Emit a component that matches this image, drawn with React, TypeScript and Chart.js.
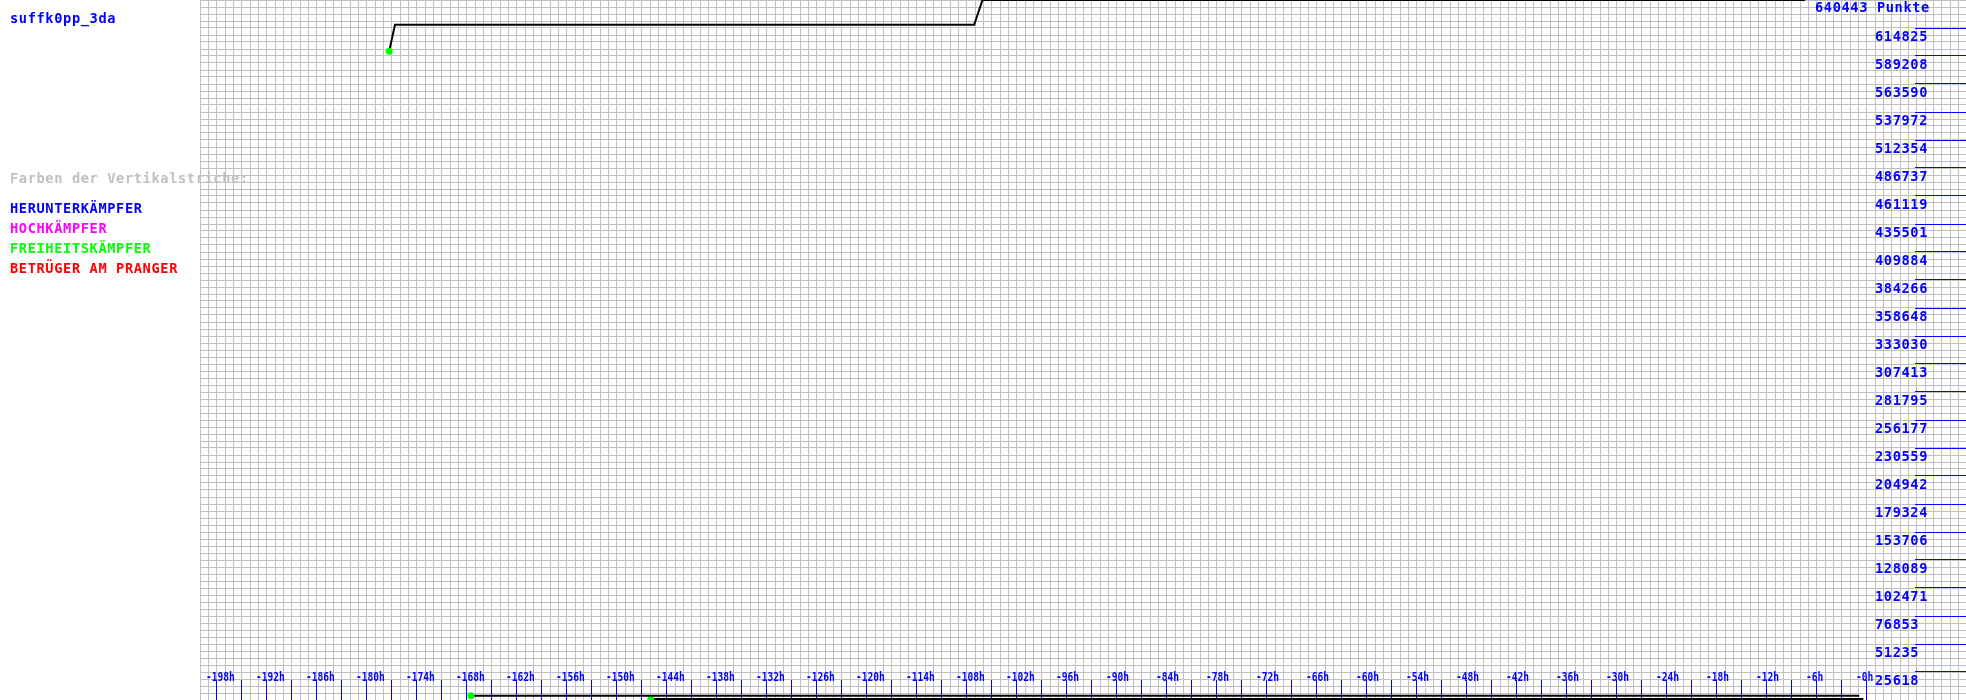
import React, { useEffect, useRef } from "react";
import { Chart, registerables } from "chart.js";

Chart.register(...registerables);

// ---- data ----
const playerName = "suffk0pp_3da";
const currentPoints = 640443;
const pointsUnit = "Punkte";

const mainHours = [-177.3, -176.6, -107.1, -106.1, -7.4];
const mainValues = [593507, 617846, 617846, 640443, 640443];

const lowAHours = [-167.5, -0.9];
const lowAValues = [3900, 3900];

const lowBHours = [-145.9, -0.4];
const lowBValues = [900, 900];

const yTickValues = [
  25618, 51235, 76853, 102471, 128089, 153706, 179324, 204942, 230559, 256177,
  281795, 307413, 333030, 358648, 384266, 409884, 435501, 461119, 486737, 512354,
  537972, 563590, 589208, 614825,
];

const xLabelHours = [
  -198, -192, -186, -180, -174, -168, -162, -156, -150, -144, -138, -132, -126,
  -120, -114, -108, -102, -96, -90, -84, -78, -72, -66, -60, -54, -48, -42, -36,
  -30, -24, -18, -12, -6, 0,
];
const xLabelTexts = xLabelHours.map((h) => (h === 0 ? "-0h" : `${h}h`));

const legendTitle = "Farben der Vertikalstriche:";
const legendItems = ["HERUNTERKÄMPFER", "HOCHKÄMPFER", "FREIHEITSKÄMPFER", "BETRÜGER AM PRANGER"];
const legendColors = ["#0000ff", "#ff00ff", "#00ff00", "#ff0000"];

// ---- layout / style ----
const W = 1966;
const H = 700;
const X_MIN = -200;
const X_MAX = -200 + (1766 * 6) / 50;
const GRID = "#c0c0c0";
const BLUE = "#0000ff";
const FONT = "bold 13.7px 'DejaVu Sans Mono', 'Liberation Mono', monospace";
const SMALL_FONT = "bold 12px 'DejaVu Sans Mono', 'Liberation Mono', monospace";

function toXY(xs: number[], ys: number[]) {
  return xs.map((x, i) => ({ x, y: ys[i] }));
}

function align(p: number) {
  return Math.round(p - 0.5) + 0.5;
}

function text(ctx: CanvasRenderingContext2D, s: string, x: number, baseline: number, color: string) {
  ctx.fillStyle = color;
  ctx.fillText(s, x, baseline);
}

const overlayPlugin = {
  id: "overlay",
  beforeDatasetsDraw(chart: any) {
    const ctx: CanvasRenderingContext2D = chart.ctx;
    const xs = chart.scales.x;
    const ys = chart.scales.y;
    const area = chart.chartArea;
    ctx.save();
    ctx.strokeStyle = BLUE;
    ctx.lineWidth = 1;
    ctx.beginPath();
    const tickHours: number[] = [];
    xLabelHours.forEach((h, i) => {
      tickHours.push(h);
      if (i < xLabelHours.length - 1) tickHours.push((h + xLabelHours[i + 1]) / 2);
    });
    tickHours.forEach((h) => {
      const px = align(xs.getPixelForValue(h));
      ctx.moveTo(px, area.bottom - 20);
      ctx.lineTo(px, area.bottom);
    });
    yTickValues.forEach((v) => {
      const py = align(ys.getPixelForValue(v));
      ctx.moveTo(area.right - 51, py);
      ctx.lineTo(area.right, py);
    });
    ctx.stroke();
    ctx.restore();
  },
  afterDraw(chart: any) {
    const ctx: CanvasRenderingContext2D = chart.ctx;
    const xs = chart.scales.x;
    const ys = chart.scales.y;
    const area = chart.chartArea;
    ctx.save();
    ctx.font = FONT;
    try {
      (ctx as any).letterSpacing = "0.6px";
    } catch (e) {}
    ctx.textAlign = "left";
    ctx.textBaseline = "alphabetic";

    text(ctx, playerName, 10, 23, BLUE);
    text(ctx, `${currentPoints} ${pointsUnit}`, area.right - 151, 12, BLUE);

    text(ctx, legendTitle, 10, 183, GRID);
    legendItems.forEach((s, i) => {
      text(ctx, s, 10, 213 + i * 20, legendColors[i]);
    });

    yTickValues.forEach((v) => {
      const py = Math.round(ys.getPixelForValue(v));
      text(ctx, String(v), area.right - 91, py + 12.5, BLUE);
    });
    ctx.restore();

    // hour labels: narrow font
    ctx.save();
    ctx.font = SMALL_FONT;
    try {
      (ctx as any).letterSpacing = "0px";
    } catch (e) {}
    ctx.textAlign = "left";
    ctx.textBaseline = "alphabetic";
    ctx.fillStyle = BLUE;
    xLabelHours.forEach((h, i) => {
      const px = Math.round(xs.getPixelForValue(h)) - 11;
      ctx.save();
      ctx.translate(px, area.bottom - 19);
      ctx.scale(0.8, 1);
      ctx.fillText(xLabelTexts[i], 0, 0);
      ctx.restore();
    });
    ctx.restore();
  },
};

function lineDataset(xs: number[], ys: number[]) {
  return {
    data: toXY(xs, ys),
    borderColor: "#000000",
    borderWidth: 2,
    backgroundColor: "#00ff00",
    fill: false,
    tension: 0,
    pointRadius: (c: any) => (c.dataIndex === 0 ? 3.5 : 0),
    pointBackgroundColor: "#00ff00",
    pointBorderColor: "#00ff00",
    pointBorderWidth: 0,
    clip: false as any,
  };
}

export default function App() {
  const canvasRef = useRef<HTMLCanvasElement | null>(null);

  useEffect(() => {
    const canvas = canvasRef.current;
    if (!canvas) return;
    const gridHours: number[] = [];
    for (let h = -200; h <= Math.floor(X_MAX); h++) gridHours.push(h);
    const gridValues: number[] = [];
    for (let k = 0; k <= 100; k++) gridValues.push((currentPoints * k) / 100);

    const chart = new Chart(canvas, {
      type: "line",
      data: {
        datasets: [
          lineDataset(mainHours, mainValues),
          lineDataset(lowAHours, lowAValues),
          lineDataset(lowBHours, lowBValues),
        ] as any,
      },
      options: {
        animation: false,
        responsive: false,
        devicePixelRatio: 1,
        events: [],
        layout: { padding: { left: 200, top: 0, right: 0, bottom: 0 }, autoPadding: false } as any,
        plugins: { legend: { display: false }, tooltip: { enabled: false } },
        scales: {
          x: {
            type: "linear",
            min: X_MIN,
            max: X_MAX,
            ticks: { display: false },
            grid: { color: GRID, lineWidth: 1, drawTicks: false },
            border: { display: false },
            afterBuildTicks: (axis: any) => {
              axis.ticks = gridHours.map((v) => ({ value: v }));
            },
          },
          y: {
            type: "linear",
            min: 0,
            max: currentPoints,
            ticks: { display: false },
            grid: { color: GRID, lineWidth: 1, drawTicks: false },
            border: { display: false },
            afterBuildTicks: (axis: any) => {
              axis.ticks = gridValues.map((v) => ({ value: v }));
            },
          },
        },
      },
      plugins: [overlayPlugin],
    });
    return () => chart.destroy();
  }, []);

  return (
    <div style={{ position: "absolute", left: 0, top: 0, width: W, height: H, background: "#ffffff" }}>
      <canvas ref={canvasRef} width={W} height={H} style={{ display: "block", width: W, height: H }} />
    </div>
  );
}
